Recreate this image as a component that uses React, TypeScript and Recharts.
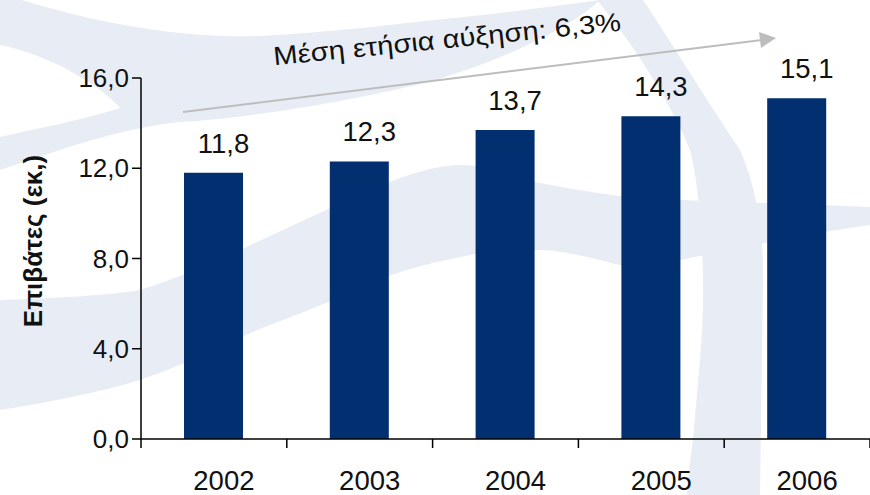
import React from "react";
import { BarChart, Bar, XAxis, YAxis, LabelList } from "recharts";

// Passengers (millions) per year
const years = ["2002", "2003", "2004", "2005", "2006"];
const passengers = [11.8, 12.3, 13.7, 14.3, 15.1];
const yTicks = [0, 4, 8, 12, 16];

const growthLabel = "Μέση ετήσια αύξηση: 6,3%";
const yAxisTitle = "Επιβάτες (εκ,)";

const W = 870;
const H = 495;
const PLOT_LEFT = 141;
const PLOT_TOP = 78;
const X_AXIS_H = 56;
const BAND = (W - PLOT_LEFT) / years.length;

const FONT = '"Liberation Sans", Arial, Helvetica, sans-serif';
const BAR_COLOR = "#022F6F";
const BG_COLOR = "#E8EDF5";
const TEXT_COLOR = "#111";

const data = years.map((year, i) => ({ year, value: passengers[i] }));

const fmt = (v: number) => v.toFixed(1).replace(".", ",");

function YearTick(props: any) {
  const { x, y, payload, index } = props;
  const half = BAND / 2;
  return (
    <g>
      <line x1={x - half} x2={x - half} y1={y} y2={y + 9} stroke="#000" strokeWidth={1.5} />
      {index === years.length - 1 && (
        <line x1={x + half} x2={x + half} y1={y} y2={y + 9} stroke="#000" strokeWidth={1.5} />
      )}
      <text x={x + 10} y={y + 51} textAnchor="middle" fontSize={27.5} fill={TEXT_COLOR} fontFamily={FONT}>
        {payload.value}
      </text>
    </g>
  );
}

function ValueLabel(props: any) {
  const { x, y, width, value } = props;
  return (
    <text x={x + width / 2 + 10} y={y - 20} textAnchor="middle" fontSize={27.5} fill={TEXT_COLOR} fontFamily={FONT}>
      {fmt(Number(value))}
    </text>
  );
}

// faint watermark swooshes behind the chart
function Backdrop() {
  return (
    <svg width={W} height={H} style={{ position: "absolute", left: 0, top: 0 }}>
      <path
        d="M0,0 L600,0 C580,20 520,55 435,80 C360,100 250,118 180,122 C120,128 60,150 0,170 Z"
        fill={BG_COLOR}
      />
      <path d="M22,0 L600,0 C540,8 490,15 435,20 C380,26 330,32 260,36 C200,38 120,30 22,0 Z" fill="#fff" />
      <path d="M0,45 C50,55 100,85 120,108 C90,118 40,128 0,137 Z" fill="#fff" />
      <path
        d="M0,300 C60,298 110,295 140,290 C190,275 250,245 326,210 C370,190 420,165 461,165 C500,166 520,178 535,182 C600,195 650,200 680,200 C760,203 820,205 870,207 L870,225 C800,235 720,252 680,260 C650,266 630,268 619,265 C580,255 560,250 535,250 C500,250 480,252 461,257 C420,265 400,272 386,277 C360,290 340,298 326,303 C290,318 260,328 242,337 C200,356 170,370 140,380 C100,392 50,402 0,410 Z"
        fill={BG_COLOR}
      />
      <path
        d="M597,0 L643,0 C670,40 700,90 740,150 C758,190 764,240 763,280 C762,350 761,420 760,495 L687,495 C690,460 693,440 693,439 C698,380 704,330 703,280 C702,230 698,180 690,150 C670,100 630,40 597,0 Z"
        fill={BG_COLOR}
      />
    </svg>
  );
}

function Annotation() {
  const tip = { x: 776, y: 38 };
  return (
    <svg width={W} height={H} style={{ position: "absolute", left: 0, top: 0, pointerEvents: "none" }}>
      <line x1={183} y1={112} x2={762} y2={40} stroke="#BDBDBD" strokeWidth={2} />
      <polygon points={`${tip.x},${tip.y} 759,32 761,48`} fill="#BDBDBD" />
      <text
        x={448}
        y={48}
        textAnchor="middle"
        fontSize={26}
        textLength={349}
        lengthAdjust="spacingAndGlyphs"
        fill={TEXT_COLOR}
        fontFamily={FONT}
        transform="rotate(-5.7 448 48)"
      >
        {growthLabel}
      </text>
      <text
        transform="translate(42,241) rotate(-90)"
        textAnchor="middle"
        fontSize={26}
        fontWeight="bold"
        fill={TEXT_COLOR}
        fontFamily={FONT}
      >
        {yAxisTitle}
      </text>
    </svg>
  );
}

export default function App() {
  return (
    <div style={{ position: "absolute", left: 0, top: 0, width: W, height: H, background: "#fff", overflow: "hidden" }}>
      <Backdrop />
      <div style={{ position: "absolute", left: 0, top: 0 }}>
        <BarChart
          width={W}
          height={H}
          data={data}
          margin={{ top: PLOT_TOP, right: 0, left: 0, bottom: 0 }}
        >
          <XAxis
            dataKey="year"
            height={X_AXIS_H}
            axisLine={{ stroke: "#000", strokeWidth: 1.5 }}
            tickLine={false}
            tickSize={0}
            tickMargin={0}
            interval={0}
            tick={<YearTick />}
          />
          <YAxis
            width={PLOT_LEFT}
            domain={[0, 16]}
            ticks={yTicks}
            interval={0}
            tickFormatter={fmt}
            axisLine={{ stroke: "#000", strokeWidth: 1.5 }}
            tickLine={{ stroke: "#000", strokeWidth: 1.5 }}
            tickSize={9}
            tickMargin={3}
            tick={{ fontSize: 26, fill: TEXT_COLOR, fontFamily: FONT }}
          />
          <Bar dataKey="value" fill={BAR_COLOR} barSize={59} isAnimationActive={false}>
            <LabelList dataKey="value" content={<ValueLabel />} />
          </Bar>
        </BarChart>
      </div>
      <Annotation />
    </div>
  );
}
